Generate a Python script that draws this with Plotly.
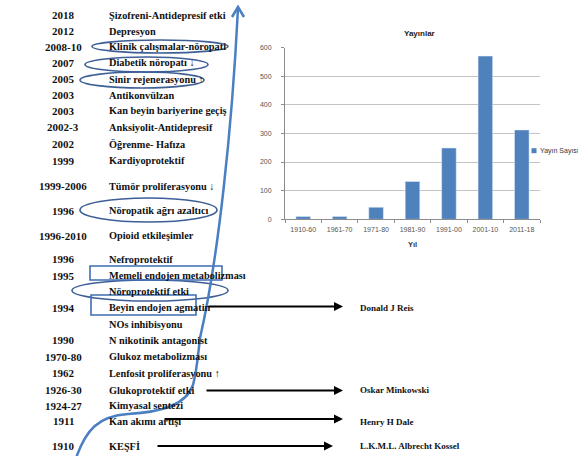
import plotly.graph_objects as go

W, H = 578, 456

# ---------------- data ----------------
periods = ["1910-60", "1961-70", "1971-80", "1981-90", "1991-00", "2001-10", "2011-18"]
publications = [10, 10, 42, 132, 249, 570, 312]

years = ["2018", "2012", "2008-10", "2007", "2005", "2003", "2003", "2002-3", "2002", "1999",
         "1999-2006", "1996", "1996-2010", "1996", "1995", "", "1994", "", "1990", "1970-80",
         "1962", "1926-30", "1924-27", "1911", "1910"]
effects = ["Şizofreni-Antidepresif etki", "Depresyon", "Klinik çalışmalar-nöropati",
           "Diabetik nöropatı ↓", "Sinir rejenerasyonu ↑", "Antikonvülzan",
           "Kan beyin bariyerine geçiş", "Anksiyolit-Antidepresif", "Öğrenme- Hafıza",
           "Kardiyoprotektif", "Tümör proliferasyonu ↓", "Nöropatik ağrı azaltıcı",
           "Opioid etkileşimler", "Nefroprotektif", "Memeli endojen metabolizması",
           "Nöroprotektif etki", "Beyin endojen agmatin", "NOs inhibisyonu",
           "N nikotinik antagonist", "Glukoz metabolizması", "Lenfosit proliferasyonu ↑",
           "Glukoprotektif etki", "Kimyasal sentezi", "Kan akımı artışı", "KEŞFİ"]
scientists = ["Donald J Reis", "Oskar Minkowski", "Henry H Dale", "L.K.M.L. Albrecht Kossel"]

# ---------------- layout positions (pixels) ----------------
row_y = [15, 31, 46.7, 62.7, 79.3, 95, 110.7, 127.3, 144, 160.7, 186, 210.7, 235.7, 259,
         275.7, 291.7, 307.7, 324, 340, 356.7, 373.3, 390, 405.7, 421, 446]
sci_text_y = [308, 390, 421.5, 446]
sci_arrow_y = [306.5, 390.5, 419, 446]
sci_arrow_x0 = [207, 205, 163, 156]
sci_arrow_x1 = [343, 343, 343, 333]


def px(x):
    return x / W


def py(y):
    return 1 - y / H


fig = go.Figure()
fig.add_trace(go.Bar(x=periods, y=publications, marker_color="#4f81bd",
                     name="Yayın Sayısı", showlegend=False))

serif = "Liberation Serif, Times New Roman, serif"
sans = "Liberation Sans, Arial, sans-serif"
annotations = []
for yr, eff, yy in zip(years, effects, row_y):
    if yr:
        annotations.append(dict(x=px(63), y=py(yy), xref="paper", yref="paper", text="<b>" + yr + "</b>",
                                showarrow=False, xanchor="center", yanchor="middle",
                                font=dict(family=serif, size=11, color="#111")))
    annotations.append(dict(x=px(106.5), y=py(yy), xref="paper", yref="paper", text="<b>" + eff + "</b>",
                            showarrow=False, xanchor="left", yanchor="middle",
                            font=dict(family=serif, size=10.3, color="#111")))

for name, ty, ay_, x0, x1 in zip(scientists, sci_text_y, sci_arrow_y, sci_arrow_x0, sci_arrow_x1):
    annotations.append(dict(x=px(358), y=py(ty), xref="paper", yref="paper", text="<b>" + name + "</b>",
                            showarrow=False, xanchor="left", yanchor="middle",
                            font=dict(family=serif, size=9, color="#111")))
    annotations.append(dict(x=px(x1), y=py(ay_), xref="paper", yref="paper", text="",
                            showarrow=True, ax=x0 - x1, ay=0, arrowhead=2, arrowsize=1,
                            arrowwidth=1.8, arrowcolor="#000", standoff=0))

# chart title / legend
annotations.append(dict(x=px(419), y=py(33), xref="paper", yref="paper", text="<b>Yayınlar</b>",
                        showarrow=False, xanchor="center", yanchor="middle",
                        font=dict(family=sans, size=8, color="#222")))
annotations.append(dict(x=px(538), y=py(150.7), xref="paper", yref="paper", text="Yayın Sayısı",
                        showarrow=False, xanchor="left", yanchor="middle",
                        font=dict(family=sans, size=7, color="#333")))

shapes = []
# legend marker
shapes.append(dict(type="rect", xref="paper", yref="paper", x0=px(531.5), x1=px(536.5),
                   y0=py(153.2), y1=py(148.2), fillcolor="#4f81bd", line=dict(width=0)))

ell_color = "#3d5f96"
for (x0, x1, y0, y1) in [(92, 228, 40, 53), (85, 208, 57, 72), (80, 204, 72, 88),
                         (80, 217, 198, 222), (72, 228, 280, 301)]:
    shapes.append(dict(type="circle", xref="paper", yref="paper", x0=px(x0), x1=px(x1),
                       y0=py(y1), y1=py(y0), line=dict(color=ell_color, width=1.6)))
rect_color = "#3f6eb0"
for (x0, x1, y0, y1) in [(90, 222, 266, 280), (91, 196, 295, 315)]:
    shapes.append(dict(type="rect", xref="paper", yref="paper", x0=px(x0), x1=px(x1),
                       y0=py(y1), y1=py(y0), line=dict(color=rect_color, width=1.6)))


def P(x, y):
    return f"{px(x):.5f},{py(y):.5f}"


curve = ("M " + P(76, 458) + " C " + P(86, 430) + " " + P(98, 416) + " " + P(128, 414)
         + " C " + P(162, 412) + " " + P(186, 405) + " " + P(193, 385)
         + " C " + P(197, 370) + " " + P(198, 355) + " " + P(200, 338)
         + " C " + P(218, 260) + " " + P(232, 130) + " " + P(238, 8))
blue = "#4a7fc1"
shapes.append(dict(type="path", xref="paper", yref="paper", path=curve,
                   line=dict(color=blue, width=2.5)))
head = "M " + P(232, 17) + " L " + P(238, 7) + " L " + P(244, 17)
shapes.append(dict(type="path", xref="paper", yref="paper", path=head,
                   line=dict(color=blue, width=2.5)))

fig.update_layout(
    width=W, height=H, margin=dict(l=0, r=0, t=0, b=0, autoexpand=False),
    paper_bgcolor="white", plot_bgcolor="white",
    bargap=0.6, showlegend=False,
    annotations=annotations, shapes=shapes,
    xaxis=dict(type="category", domain=[px(285), px(540)], automargin=False,
               showline=True, linecolor="#8c8c8c", linewidth=1,
               ticks="outside", tickson="boundaries", ticklen=3, tickcolor="#8c8c8c",
               ticklabelstandoff=3,
               tickfont=dict(family=sans, size=7, color="#555"),
               title=dict(text="<b>Yıl</b>", font=dict(family=sans, size=7.5, color="#333"),
                          standoff=10),
               fixedrange=True),
    yaxis=dict(domain=[py(219.3), py(47.5)], range=[0, 600], dtick=100, automargin=False,
               showgrid=True, gridcolor="#c4c4c4", gridwidth=1,
               showline=True, linecolor="#8c8c8c", linewidth=1,
               ticks="outside", ticklen=3, tickcolor="#8c8c8c", ticklabelstandoff=8,
               tickfont=dict(family=sans, size=7, color="#555"),
               zeroline=False, fixedrange=True),
)

fig.write_html("out.html")
